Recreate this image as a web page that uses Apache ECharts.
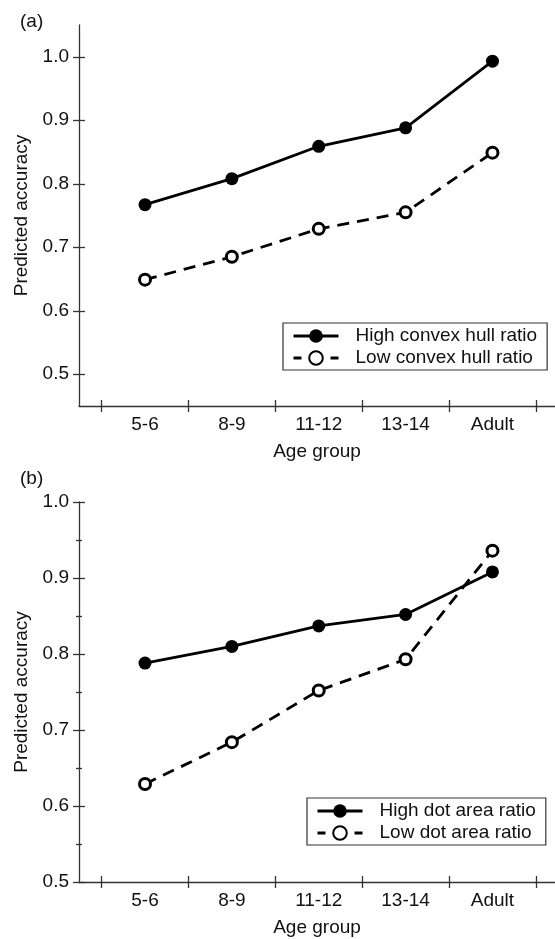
<!DOCTYPE html>
<html>
<head>
<meta charset="utf-8">
<script src="https://cdn.jsdelivr.net/npm/echarts@6/dist/echarts.min.js"></script>
<style>
  html, body { margin: 0; padding: 0; background: #fff; }
  #chart { width: 555px; height: 939px; }
</style>
</head>
<body>
<div id="chart"></div>
<script>
// age groups along x
const ageGroups = ['5-6', '8-9', '11-12', '13-14', 'Adult']

// panel (a): convex hull ratio
const highHull = [0.767, 0.808, 0.859, 0.888, 0.993]
const lowHull = [0.649, 0.685, 0.729, 0.755, 0.849]

// panel (b): dot area ratio
const highArea = [0.788, 0.810, 0.837, 0.852, 0.908]
const lowArea = [0.629, 0.684, 0.752, 0.793, 0.936]

// tick positions
const yTicks = [0.5, 0.6, 0.7, 0.8, 0.9, 1.0]
const yMinorB = [0.55, 0.65, 0.75, 0.85, 0.95]
const xLabelPos = [0, 1, 2, 3, 4]
const xTickPos = [-0.5, 0.5, 1.5, 2.5, 3.5, 4.5]

const FONT = "'Liberation Sans', Arial, Helvetica, sans-serif"
const INK = '#111'
const AXIS = '#333'
const FS = 19

const chart = echarts.init(document.getElementById('chart'))

const toPairs = arr => arr.map((v, i) => [i, v])

const tickLine = { color: AXIS, width: 1.3 }
const noLine = { show: true, onZero: false, lineStyle: { color: 'rgba(0,0,0,0)' } }

const X_RANGE = { min: -0.76, max: 4.72 }
const Y_RANGE_A = { min: 0.45, max: 1.05 }
const Y_RANGE_B = { min: 0.5, max: 1.0 }

const gridA = { left: 79, top: 25, width: 476, height: 381 }
const gridB = { left: 79, top: 502, width: 476, height: 380 }

function xMain(gridIndex) {
  return Object.assign({
    type: 'value', gridIndex: gridIndex, position: 'bottom', splitLine: { show: false },
    name: 'Age group', nameLocation: 'middle', nameGap: 36,
    nameTextStyle: { fontFamily: FONT, fontSize: FS, color: INK },
    axisLine: { onZero: false, lineStyle: tickLine },
    axisTick: { show: true, customValues: xTickPos, length: 6, lineStyle: tickLine },
    axisLabel: {
      customValues: xLabelPos, margin: 9,
      fontFamily: FONT, fontSize: FS, color: INK,
      formatter: v => ageGroups[Math.round(v)]
    }
  }, X_RANGE)
}

function yMain(gridIndex, range) {
  return Object.assign({
    type: 'value', gridIndex: gridIndex, position: 'left', splitLine: { show: false },
    name: 'Predicted accuracy', nameLocation: 'middle', nameGap: 46,
    nameTextStyle: { fontFamily: FONT, fontSize: FS, color: INK },
    axisLine: { show: true, onZero: false, lineStyle: tickLine },
    axisTick: { show: true, customValues: yTicks, length: 6, lineStyle: tickLine },
    axisLabel: {
      customValues: yTicks, margin: 10,
      fontFamily: FONT, fontSize: FS, color: INK,
      formatter: v => v.toFixed(1)
    }
  }, range)
}

// axis that only draws ticks (negative length points them into the plot)
function tickOnly(dim, gridIndex, range, values, len) {
  return Object.assign({
    type: 'value', gridIndex: gridIndex, position: dim === 'x' ? 'bottom' : 'left',
    splitLine: { show: false },
    axisLine: noLine,
    axisTick: { show: true, customValues: values, length: len, lineStyle: tickLine },
    axisLabel: { show: false, customValues: values }
  }, range)
}

function solid(name, data, idx) {
  return {
    name: name, type: 'line', xAxisIndex: idx, yAxisIndex: idx,
    data: toPairs(data), symbol: 'circle', symbolSize: 13,
    itemStyle: { color: '#000', borderColor: '#000', borderWidth: 0 },
    lineStyle: { color: '#000', width: 2.8 },
    z: 3
  }
}

function dashed(name, data, idx) {
  return {
    name: name, type: 'line', xAxisIndex: idx, yAxisIndex: idx,
    data: toPairs(data), symbol: 'circle', symbolSize: 11,
    itemStyle: { color: '#fff', borderColor: '#000', borderWidth: 3 },
    lineStyle: { color: '#000', width: 2.8, type: [12, 8] },
    z: 2
  }
}

const legendBase = {
  orient: 'vertical', itemWidth: 45, itemHeight: 17, itemGap: 2,
  borderColor: AXIS, borderWidth: 1.2, padding: [3, 10, 2, 9],
  lineStyle: { width: 3 },
  textStyle: { fontFamily: FONT, fontSize: FS, color: INK, lineHeight: 20, padding: [0, 0, 0, 12] }
}

const legendItems = (hi, lo) => [
  { name: hi, lineStyle: { type: 'solid', width: 3 } },
  { name: lo, lineStyle: { type: [8, 29], width: 3 } }
]

const option = {
  animation: false,
  backgroundColor: '#fff',
  title: [
    { text: '(a)', left: 20, top: 12, padding: 0, textStyle: { fontFamily: FONT, fontSize: FS, fontWeight: 'normal', color: INK } },
    { text: '(b)', left: 20, top: 469, padding: 0, textStyle: { fontFamily: FONT, fontSize: FS, fontWeight: 'normal', color: INK } }
  ],
  grid: [gridA, gridB],
  legend: [
    Object.assign({}, legendBase, { left: 283, top: 323, data: legendItems('High convex hull ratio', 'Low convex hull ratio') }),
    Object.assign({}, legendBase, { left: 307, top: 798, data: legendItems('High dot area ratio', 'Low dot area ratio') })
  ],
  xAxis: [
    xMain(0), xMain(1),
    tickOnly('x', 0, X_RANGE, xTickPos, -6),
    tickOnly('x', 1, X_RANGE, xTickPos, -6)
  ],
  yAxis: [
    yMain(0, Y_RANGE_A), yMain(1, Y_RANGE_B),
    tickOnly('y', 0, Y_RANGE_A, yTicks, -6),
    tickOnly('y', 1, Y_RANGE_B, yTicks, -6),
    tickOnly('y', 1, Y_RANGE_B, yMinorB, 3),
    tickOnly('y', 1, Y_RANGE_B, yMinorB, -3)
  ],
  series: [
    solid('High convex hull ratio', highHull, 0),
    dashed('Low convex hull ratio', lowHull, 0),
    solid('High dot area ratio', highArea, 1),
    dashed('Low dot area ratio', lowArea, 1)
  ]
}

chart.setOption(option)
</script>
</body>
</html>
